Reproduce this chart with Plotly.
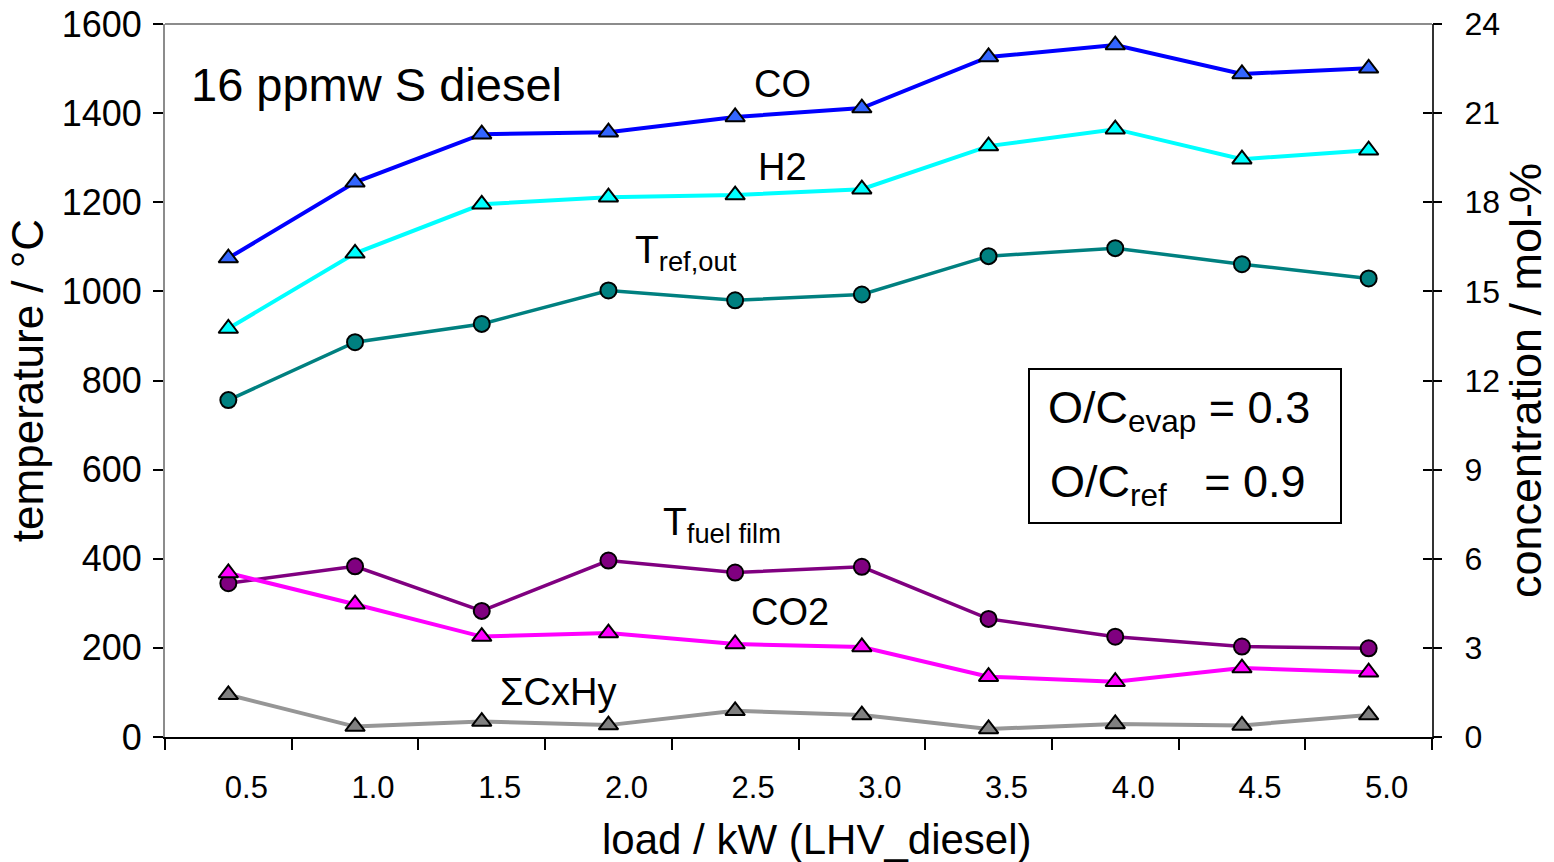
import plotly.graph_objects as go

# load steps (kW, LHV of diesel)
loads = ["0.5", "1.0", "1.5", "2.0", "2.5", "3.0", "3.5", "4.0", "4.5", "5.0"]

# concentrations, mol-% (right axis)
co = [16.12, 18.67, 20.29, 20.36, 20.87, 21.17, 22.89, 23.29, 22.32, 22.51]
h2 = [13.75, 16.28, 17.93, 18.17, 18.24, 18.44, 19.89, 20.46, 19.45, 19.75]
co2 = [5.52, 4.47, 3.38, 3.50, 3.13, 3.03, 2.03, 1.86, 2.32, 2.18]
cxhy = [1.42, 0.35, 0.52, 0.40, 0.88, 0.74, 0.27, 0.44, 0.39, 0.74]

# temperatures, °C (left axis)
t_ref_out = [756, 886, 927, 1002, 980, 993, 1079, 1097, 1061, 1029]
t_fuel_film = [345, 383, 283, 396, 369, 382, 265, 225, 203, 199]

FONT = "Liberation Sans, Arial, sans-serif"

fig = go.Figure()


def temp_trace(y, color):
    return go.Scatter(
        x=loads, y=y, mode="lines+markers", yaxis="y",
        line=dict(color=color, width=3.5),
        marker=dict(symbol="circle", size=16, color=color,
                    line=dict(color="black", width=2)),
        showlegend=False, hoverinfo="x+y",
    )


def conc_trace(y, line_color, fill_color):
    return go.Scatter(
        x=loads, y=y, mode="lines+markers", yaxis="y2",
        line=dict(color=line_color, width=4),
        marker=dict(symbol="triangle-up", size=17, color=fill_color,
                    line=dict(color="black", width=2)),
        showlegend=False, hoverinfo="x+y",
    )


fig.add_trace(temp_trace(t_ref_out, "#008080"))
fig.add_trace(temp_trace(t_fuel_film, "#800080"))
fig.add_trace(conc_trace(co, "#0000FF", "#3366FF"))
fig.add_trace(conc_trace(h2, "#00FFFF", "#00FFFF"))
fig.add_trace(conc_trace(co2, "#FF00FF", "#FF00FF"))
fig.add_trace(conc_trace(cxhy, "#969696", "#808080"))
# empty trace that carries the outer half of the right-hand tick marks
fig.add_trace(go.Scatter(x=[], y=[], yaxis="y3", showlegend=False))

labels = [
    dict(text="16 ppmw S diesel", x=376, y=84, size=47),
    dict(text="CO", x=782, y=84, size=38),
    dict(text="H2", x=782, y=167, size=38),
    dict(text="T<sub>ref,out</sub>", x=686, y=252, size=39),
    dict(text="T<sub>fuel film</sub>", x=722, y=524, size=39),
    dict(text="CO2", x=790, y=612, size=38),
    dict(text="ΣCxHy", x=558, y=692, size=38),
]

L, R, T, B = 165, 1432, 24, 737


def px(xp):
    return (xp - L) / (R - L)


def py(yp):
    return (B - yp) / (B - T)


annotations = []
for lab in labels:
    annotations.append(dict(
        text=lab["text"], x=px(lab["x"]), y=py(lab["y"]),
        xref="paper", yref="paper", xanchor="center", yanchor="middle",
        showarrow=False, font=dict(family=FONT, size=lab["size"], color="black"),
    ))

# O/C ratios box
annotations.append(dict(
    text="O/C<sub>evap</sub> = 0.3", x=px(1046), y=py(410),
    xref="paper", yref="paper", xanchor="left", yanchor="middle",
    showarrow=False, font=dict(family=FONT, size=45, color="black"),
))
annotations.append(dict(
    text="O/C<sub>ref</sub>\u00a0\u00a0\u00a0= 0.9", x=px(1048), y=py(484),
    xref="paper", yref="paper", xanchor="left", yanchor="middle",
    showarrow=False, font=dict(family=FONT, size=45, color="black"),
))

# x-axis title
annotations.append(dict(
    text="load / kW (LHV_diesel)", x=px(817), y=py(839),
    xref="paper", yref="paper", xanchor="center", yanchor="middle",
    showarrow=False, font=dict(family=FONT, size=42, color="black"),
))

shapes = [
    dict(type="rect", xref="paper", yref="paper",
         x0=px(1029), x1=px(1341), y0=py(523), y1=py(369),
         line=dict(color="black", width=2), fillcolor="rgba(0,0,0,0)"),
    dict(type="line", xref="paper", yref="paper", x0=0, x1=1, y0=1, y1=1,
         line=dict(color="#8c8c8c", width=2)),
]

fig.update_layout(
    width=1554, height=862,
    margin=dict(l=L, r=1554 - R, t=T, b=862 - B, autoexpand=False),
    paper_bgcolor="white", plot_bgcolor="white",
    font=dict(family=FONT, color="black"),
    xaxis=dict(
        type="category", range=[-0.5, 9.5], automargin=False,
        showgrid=False, zeroline=False,
        showline=True, linecolor="black", linewidth=2,
        ticks="outside", ticklen=11, tickwidth=1.5, tickcolor="black",
        tickson="boundaries",
        tickfont=dict(family=FONT, size=31, color="black"),
        ticklabelshift=18, ticklabelstandoff=22,
    ),
    yaxis=dict(
        title=dict(text="temperature / °C",
                   font=dict(family=FONT, size=44, color="black"), standoff=4),
        range=[0, 1600], dtick=200, automargin=False,
        showgrid=False, zeroline=False,
        showline=True, linecolor="#8c8c8c", linewidth=2,
        ticks="outside", ticklen=10, tickwidth=1.5, tickcolor="black",
        tickfont=dict(family=FONT, size=36, color="black"),
        ticklabelstandoff=4,
    ),
    yaxis2=dict(
        title=dict(text="concentration / mol-%",
                   font=dict(family=FONT, size=45, color="black"), standoff=10),
        overlaying="y", side="right", anchor="x", automargin=False,
        range=[0, 24], dtick=3,
        showgrid=False, zeroline=False,
        showline=True, linecolor="#333333", linewidth=2,
        ticks="inside", ticklen=9, tickwidth=1.5, tickcolor="black",
        tickfont=dict(family=FONT, size=32, color="black"),
        ticklabelstandoff=24,
    ),
    yaxis3=dict(
        overlaying="y", side="right", anchor="x", automargin=False,
        range=[0, 24], dtick=3,
        showgrid=False, zeroline=False, showline=False,
        ticks="outside", ticklen=9, tickwidth=1.5, tickcolor="black",
        showticklabels=False,
    ),
    annotations=annotations,
    shapes=shapes,
)

fig.write_html("out.html")
